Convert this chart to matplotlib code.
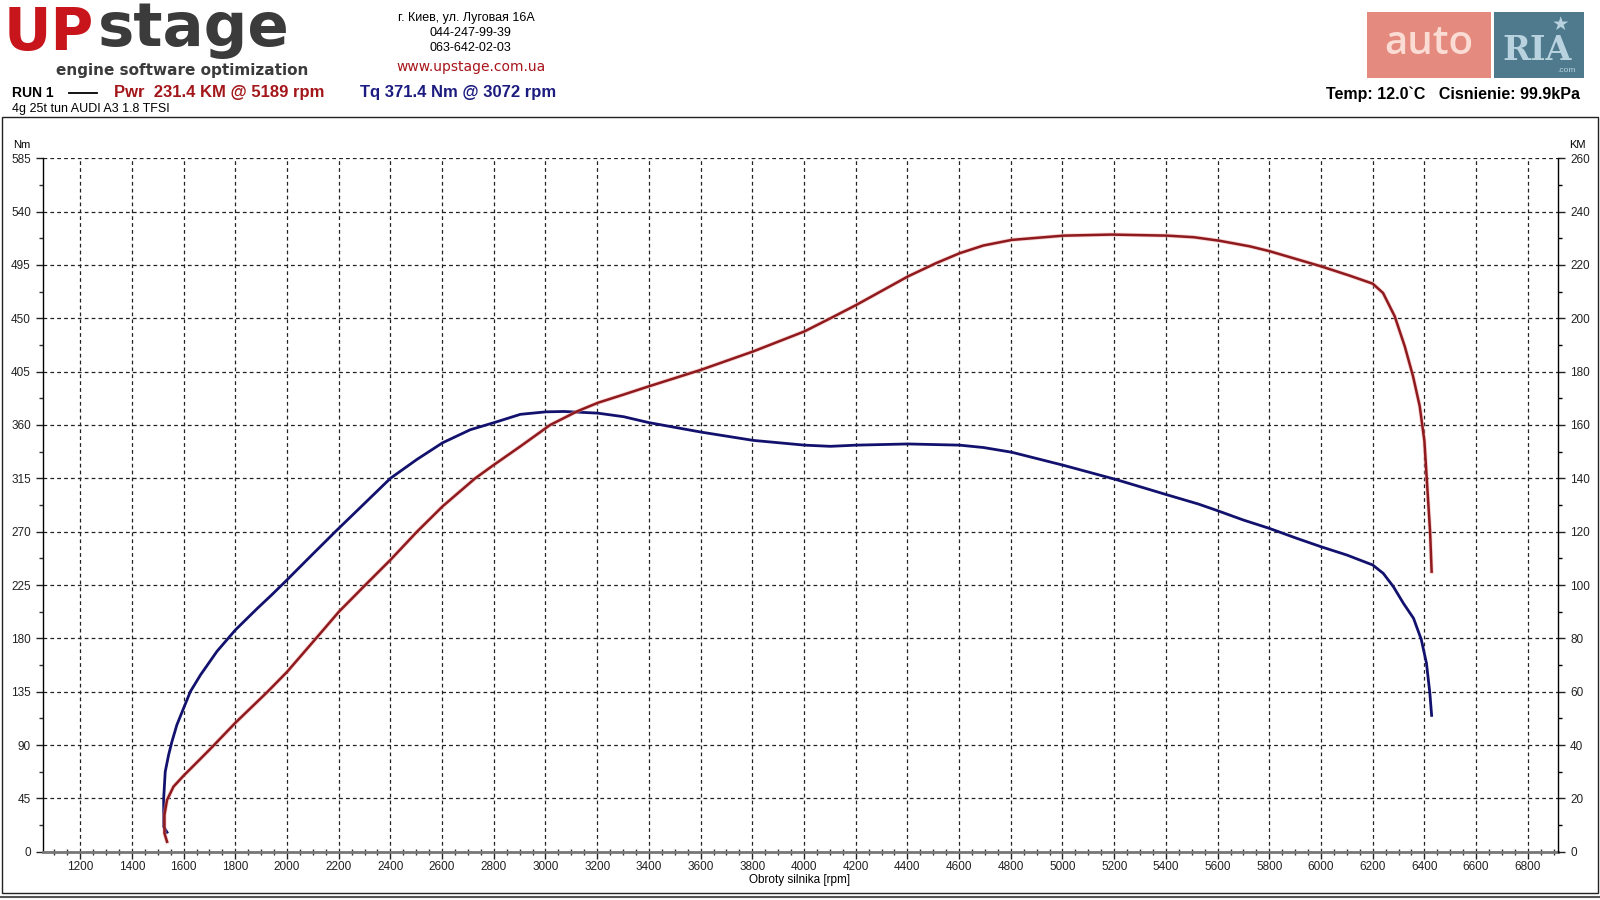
import numpy as np
import matplotlib
matplotlib.use("Agg")
import matplotlib.pyplot as plt
from matplotlib.patches import Rectangle
from matplotlib.lines import Line2D
from matplotlib.transforms import Affine2D
from matplotlib.ticker import MultipleLocator

plt.rcParams['font.family'] = ['Liberation Sans', 'DejaVu Sans']

# torque curve (Nm, left axis)
torque_rpm = [1536, 1523, 1523, 1529, 1542, 1555, 1574, 1600, 1626, 1665,
              1729, 1800, 1884, 1940, 1994, 2090, 2187, 2296, 2400, 2503,
              2602, 2709, 2801, 2903, 3002, 3072, 3202, 3302, 3400, 3602,
              3804, 4002, 4102, 4202, 4402, 4602, 4694, 4804, 5004, 5207,
              5406, 5526, 5600, 5700, 5800, 5906, 6000, 6100, 6200, 6241,
              6280, 6319, 6358, 6388, 6408, 6421, 6428]
torque_nm = [16.4, 21, 45, 67.5, 81.6, 92.9, 107, 121, 135, 149,
             169, 187, 205, 216.5, 228, 249, 270, 293, 315, 331,
             345, 356, 362, 369, 371.1, 371.4, 370, 367, 362, 354,
             347, 343, 342, 343, 344, 343, 341, 337, 326, 314,
             301, 293.3, 287.7, 279.8, 272.8, 264.4, 257.3, 250.3, 241.9, 234.8,
             223.6, 209.5, 196.9, 179, 159, 134, 115]

# power curve (KM, right axis)
power_rpm = [1536, 1526, 1526, 1536, 1561, 1600, 1665, 1710, 1800, 1923,
             2000, 2116, 2201, 2303, 2401, 2503, 2602, 2728, 2801, 2903,
             3018, 3122, 3202, 3302, 3400, 3602, 3804, 4002, 4102, 4202,
             4402, 4509, 4602, 4694, 4804, 5004, 5189, 5406, 5509, 5606,
             5724, 5800, 6000, 6111, 6200, 6240, 6285, 6324, 6356, 6382,
             6400, 6409, 6422, 6428]
power_km = [3.75, 6.9, 13.8, 19.4, 24.4, 28.5, 34.8, 39.2, 48.3, 59.8,
            67.4, 80.4, 90, 100, 109.5, 120, 129.5, 140, 145.1, 152,
            160, 165.1, 168.3, 171.4, 174.5, 180.7, 187.6, 195.1, 200, 205,
            215.7, 220.6, 224.4, 227.3, 229.4, 231, 231.4, 231, 230.4, 229.1,
            227, 225.2, 219.5, 216, 213, 209.5, 200.8, 189.5, 178.3, 167,
            154, 140, 120, 105]

x_ticks = list(range(1200, 6801, 200))
nm_ticks = list(range(0, 586, 45))
km_ticks = list(range(0, 261, 20))

RED = "#8e1a1e"
BLUE = "#12126e"

fig = plt.figure(figsize=(16, 9), dpi=100)
# pixel coordinates, y pointing down
pix = Affine2D().scale(1 / 1600, -1 / 900).translate(0, 1) + fig.transFigure

ax = fig.add_axes([42.7 / 1600, 1 - 851.7 / 900, (1558.3 - 42.7) / 1600, (851.7 - 158.3) / 900])
ax.set_xlim(1055, 6918)
ax.set_ylim(0, 585)
ax.set_xticks(x_ticks)
ax.xaxis.set_minor_locator(MultipleLocator(50))
ax.set_yticks(nm_ticks)
ax.yaxis.set_minor_locator(MultipleLocator(22.5))
ax.grid(True, which="major", color="#222222", linestyle=(0, (3, 2.5)), linewidth=0.9)
ax.tick_params(axis="both", which="major", labelsize=8.5, colors="#222222", length=5, width=1)
ax.tick_params(axis="both", which="minor", length=3, width=1, colors="#333333")
ax.tick_params(axis="x", which="major", pad=1.5)
ax.tick_params(axis="x", which="minor", direction="inout", length=5)
for s in ["top", "right"]:
    ax.spines[s].set_visible(False)
ax.spines["bottom"].set_color("#777777")
ax.spines["bottom"].set_linewidth(2)
ax.spines["left"].set_linewidth(1)

ax2 = ax.twinx()
ax2.set_ylim(0, 260)
ax2.set_yticks(km_ticks)
ax2.yaxis.set_minor_locator(MultipleLocator(10))
ax2.tick_params(axis="y", which="major", labelsize=8.5, colors="#222222", length=5, width=1)
ax2.tick_params(axis="y", which="minor", length=3, width=1)
for s in ["top", "left", "bottom"]:
    ax2.spines[s].set_visible(False)
ax2.spines["right"].set_linewidth(1)

ax.plot(torque_rpm, torque_nm, color=BLUE, linewidth=2.0, solid_joinstyle="round")
ax2.plot(power_rpm, power_km, color="#f4a8a8", linewidth=3.0, alpha=0.5, solid_joinstyle="round")
ax2.plot(power_rpm, power_km, color=RED, linewidth=1.8, solid_joinstyle="round")

fig.text(22, 145, "Nm", transform=pix, fontsize=8, ha="center", va="center")
fig.text(1577, 145, "KM", transform=pix, fontsize=8, ha="center", va="center")
fig.text(800, 880, "Obroty silnika [rpm]", transform=pix, fontsize=8.5, ha="center", va="center")

# frame around the chart
fig.add_artist(Rectangle((1.5, 117), 1596, 776, transform=pix, fill=False, edgecolor="#222222", linewidth=1))
fig.add_artist(Line2D([0, 1600], [897, 897], transform=pix, color="#555555", linewidth=1.5))

# UPstage logo
fig.text(4, 62, "UP", transform=pix, fontsize=42, fontweight="bold", family="DejaVu Sans",
         color="#c8151b", ha="left", va="bottom")
fig.text(98, 46, "stage", transform=pix, fontsize=44, fontweight="bold", family="DejaVu Sans",
         color="#3b3b3b", ha="left", va="baseline")
fig.text(56, 70.5, "engine software optimization", transform=pix, fontsize=11, fontweight="bold",
         family="DejaVu Sans", color="#3b3b3b", ha="left", va="center")

# address
fig.text(466, 17.5, "г. Киев, ул. Луговая 16А", transform=pix, fontsize=9, ha="center", va="center")
fig.text(470, 33, "044-247-99-39", transform=pix, fontsize=9, ha="center", va="center")
fig.text(470, 48, "063-642-02-03", transform=pix, fontsize=9, ha="center", va="center")
fig.text(471, 67, "www.upstage.com.ua", transform=pix, fontsize=10, color="#a8141a",
         family="DejaVu Sans", ha="center", va="center")

# run info
fig.text(12, 93, "RUN 1", transform=pix, fontsize=10, fontweight="bold", ha="left", va="center")
fig.add_artist(Line2D([69, 97], [93, 93], transform=pix, color="black", linewidth=1.3))
fig.text(114, 93, "Pwr  231.4 KM @ 5189 rpm", transform=pix, fontsize=12, fontweight="bold",
         color="#a3161a", ha="left", va="center")
fig.text(360, 93, "Tq 371.4 Nm @ 3072 rpm", transform=pix, fontsize=12, fontweight="bold",
         color="#1c1c80", ha="left", va="center")
fig.text(12, 109, "4g 25t tun AUDI A3 1.8 TFSI", transform=pix, fontsize=9, ha="left", va="center")
fig.text(1580, 94, "Temp: 12.0`C   Cisnienie: 99.9kPa", transform=pix, fontsize=11.5,
         fontweight="bold", ha="right", va="center")

# autoRIA logo
fig.add_artist(Rectangle((1367, 12), 124, 66, transform=pix, color="#e58a7e", linewidth=0))
fig.add_artist(Rectangle((1494, 12), 90, 66, transform=pix, color="#4f7a8d", linewidth=0))
fig.text(1429, 44, "auto", transform=pix, fontsize=29, family="Open Sans", fontweight="semibold",
         color="#fbdcd5", ha="center", va="center")
fig.text(1537, 50, "RIA", transform=pix, fontsize=24, family="DejaVu Serif", fontweight="bold",
         color="#b8d3df", ha="center", va="center")
fig.text(1560, 24, "★", transform=pix, fontsize=14, family="DejaVu Sans", color="#b8d3df",
         ha="center", va="center")
fig.text(1576, 70, ".com", transform=pix, fontsize=6, color="#b8d3df", ha="right", va="center")

fig.savefig("out.png", dpi=100)
